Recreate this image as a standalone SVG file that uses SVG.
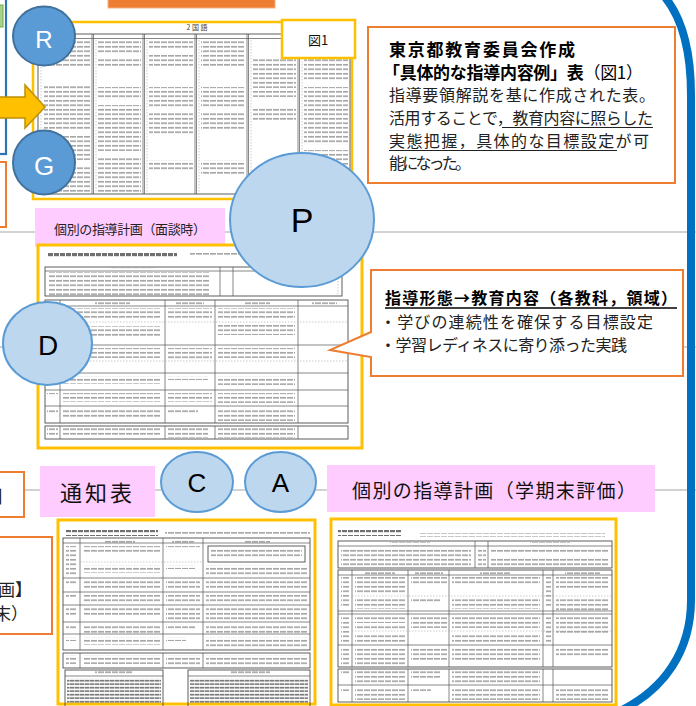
<svg xmlns="http://www.w3.org/2000/svg" width="696" height="706" viewBox="0 0 696 706">
<defs>
<pattern id="tx" width="7" height="4.5" patternUnits="userSpaceOnUse"><rect x="0" y="1" width="6" height="1.5" fill="#9a9a9a"/></pattern>
<pattern id="txd" width="5" height="3.5" patternUnits="userSpaceOnUse"><rect x="0" y="0.8" width="4.5" height="1.7" fill="#777"/></pattern>
<pattern id="txh" width="6" height="6" patternUnits="userSpaceOnUse"><rect x="0" y="1" width="5" height="3.2" fill="#707070"/></pattern>
<style>
.doc{fill:#fff;stroke:#FFC000;stroke-width:3}
.tb{fill:none;stroke:#4d4d4d;stroke-width:0.9}
.ln{stroke:#555;stroke-width:0.7}
.dl{stroke:#aaa;stroke-width:0.6;stroke-dasharray:1.5 1.5}
.tx{fill:url(#tx)}
.txd{fill:url(#txd)}
.txh{fill:url(#txh)}
.pink{fill:#FFCCFF}
.ob{fill:#fff;stroke:#ED7D31;stroke-width:2}
.c1{fill:#BDD7EE;stroke:#5B9BD5;stroke-width:2}
.c2{fill:#5B9BD5;stroke:#41719C;stroke-width:2}
.jp{font-family:"Noto Sans CJK JP","Liberation Sans",sans-serif}
.lt{font-family:"Liberation Sans",Arial,sans-serif}
.conn{stroke:#A6A6A6;stroke-width:1;fill:none}
</style>
</defs>
<rect width="696" height="706" fill="#fff"/>

<!-- connectors / background lines -->
<g id="connectors">
<line class="conn" x1="0" y1="232" x2="696" y2="232"/>
<line class="conn" x1="0" y1="347" x2="696" y2="347"/>
<line class="conn" x1="0" y1="490" x2="696" y2="490"/>
</g>

<!-- partial shapes at the edges -->
<g id="edge-left">
<rect x="-10" y="5" width="13" height="22" fill="#A9D18E" stroke="#70AD47" stroke-width="1"/>
<rect x="-20" y="-10" width="26" height="164" fill="none" stroke="#2E75B6" stroke-width="2.2"/>
<rect x="-20" y="162" width="26" height="65" class="ob"/>
<rect x="-20" y="472" width="44" height="45" class="ob"/>
<text class="jp" x="-14" y="503" font-size="18" fill="#222">日</text>
<rect x="-20" y="537" width="72" height="97" class="ob"/>
<text class="jp" x="-2" y="596" font-size="17" fill="#222">画】</text>
<text class="jp" x="-6" y="620" font-size="17" fill="#222">末）</text>
</g>
<g id="top-bar"><rect x="108" y="-5" width="167" height="13" fill="#ED7D31" stroke="#F4B183" stroke-width="1"/></g>

<!-- blue rounded frame -->
<g id="frame"><path d="M664,-4 C680,15 691,45 691,95 L691,600 C691,650 665,690 618,712" fill="none" stroke="#0070C0" stroke-width="8"/></g>

<!-- Fig.1 document -->
<g id="doc-fig1">
<rect x="33" y="22" width="319" height="177" fill="#fff" stroke="#FFC000" stroke-width="2.5"/>
<text class="jp" x="197" y="30" font-size="7" text-anchor="middle" fill="#444">2 国 語</text>
<rect x="38" y="34" width="312" height="160" class="tb"/>
<line class="ln" x1="38" y1="38.5" x2="350" y2="38.5"/>
<g class="ln">
<line x1="92" y1="34" x2="92" y2="194"/><line x1="93.5" y1="34" x2="93.5" y2="194"/>
<line x1="143" y1="34" x2="143" y2="194"/><line x1="144.5" y1="34" x2="144.5" y2="194"/>
<line x1="195" y1="34" x2="195" y2="194"/><line x1="196.5" y1="34" x2="196.5" y2="194"/>
<line x1="247" y1="34" x2="247" y2="194"/><line x1="248.5" y1="34" x2="248.5" y2="194"/>
<line x1="298" y1="34" x2="298" y2="194"/><line x1="299.5" y1="34" x2="299.5" y2="194"/>
</g>
<g class="dl"><line x1="41" y1="40" x2="41" y2="192"/><line x1="96" y1="40" x2="96" y2="192"/><line x1="147" y1="40" x2="147" y2="192"/><line x1="199" y1="40" x2="199" y2="192"/><line x1="251" y1="40" x2="251" y2="192"/><line x1="302" y1="40" x2="302" y2="192"/></g>
<g class="tx">
<rect x="44" y="40" width="46" height="26"/><rect x="44" y="86" width="46" height="44"/><rect x="44" y="136" width="46" height="24"/><rect x="44" y="165" width="46" height="27"/>
<rect x="98" y="40" width="43" height="14"/><rect x="98" y="57" width="43" height="10"/><rect x="98" y="87" width="43" height="13"/><rect x="98" y="105" width="43" height="46"/><rect x="98" y="157" width="43" height="36"/>
<rect x="149" y="40" width="44" height="9"/><rect x="149" y="55" width="44" height="11"/><rect x="149" y="87" width="44" height="22"/><rect x="149" y="113" width="44" height="22"/><rect x="149" y="160" width="44" height="10"/>
<rect x="201" y="40" width="44" height="27"/><rect x="201" y="87" width="44" height="22"/><rect x="201" y="113" width="44" height="16"/><rect x="201" y="160" width="44" height="14"/>
<rect x="253" y="58" width="43" height="30"/><rect x="253" y="91" width="43" height="6"/><rect x="253" y="108" width="43" height="14"/>
<rect x="304" y="52" width="44" height="28"/><rect x="304" y="87" width="44" height="58"/><rect x="304" y="150" width="44" height="22"/>
</g>
</g>
<g id="label-fig1">
<rect x="282" y="20" width="73" height="38" fill="#fff" stroke="#FFC000" stroke-width="2.5"/>
<text class="jp" x="318" y="45" font-size="13" text-anchor="middle" fill="#111">図1</text>
</g>

<!-- arrow -->
<g id="arrow"><polygon points="-3,97 25,97 25,85 45,107 25,128 25,118 -3,118" fill="#FFC000" stroke="#BF9000" stroke-width="1.5"/></g>

<!-- top-right text box -->
<g id="note-fig1">
<rect x="368" y="27" width="307" height="156" class="ob"/>
<text class="jp" x="389" y="56" font-size="17" font-weight="bold" fill="#000" textLength="186" lengthAdjust="spacing">東京都教育委員会作成</text>
<text class="jp" x="383" y="79" font-size="17" fill="#000" textLength="260" lengthAdjust="spacing"><tspan font-weight="bold">「具体的な指導内容例」表</tspan><tspan>（図1）</tspan></text>
<text class="jp" x="389" y="101" font-size="16" fill="#222" textLength="266" lengthAdjust="spacing">指導要領解説を基に作成された表。</text>
<text class="jp" x="389" y="124" font-size="16" fill="#222" textLength="264" lengthAdjust="spacing">活用することで，教育内容に照らした</text>
<line x1="502" y1="127.5" x2="653" y2="127.5" stroke="#222" stroke-width="1.2"/>
<text class="jp" x="389" y="147" font-size="16" fill="#222" textLength="260" lengthAdjust="spacing">実態把握，具体的な目標設定が可</text>
<line x1="389" y1="150.5" x2="617" y2="150.5" stroke="#222" stroke-width="1.2"/>
<text class="jp" x="389" y="169" font-size="16" fill="#222" textLength="82" lengthAdjust="spacing">能になった。</text>
</g>

<!-- pink label: interview -->
<g id="label-interview">
<rect x="35" y="208" width="190" height="39" class="pink"/>
<text class="jp" x="54" y="234" font-size="13" fill="#222" textLength="152" lengthAdjust="spacing">個別の指導計画（面談時）</text>
</g>

<!-- interview document -->
<g id="doc-interview">
<rect x="38" y="245" width="324" height="203" class="doc"/>
<rect x="47" y="251" width="130" height="6" class="txh"/>
<rect x="190" y="253" width="55" height="4" class="tx"/>
<rect x="45" y="267" width="297" height="29" class="tb"/>
<line class="ln" x1="45" y1="271" x2="342" y2="271"/>
<line class="ln" x1="220" y1="267" x2="220" y2="296"/><line class="ln" x1="233" y1="267" x2="233" y2="296"/>
<rect x="110" y="267.5" width="45" height="3" class="tx"/>
<rect x="49" y="272" width="160" height="23" class="tx"/>
<line class="dl" x1="338" y1="272" x2="338" y2="295"/>
<rect x="45" y="300" width="303" height="123" class="tb"/>
<line class="ln" x1="45" y1="306" x2="348" y2="306"/>
<g class="ln">
<line x1="60" y1="300" x2="60" y2="423"/><line x1="165" y1="300" x2="165" y2="423"/><line x1="215" y1="300" x2="215" y2="423"/><line x1="298" y1="300" x2="298" y2="423"/>
<line x1="45" y1="345" x2="348" y2="345"/><line x1="45" y1="373" x2="348" y2="373"/><line x1="45" y1="390" x2="348" y2="390"/><line x1="45" y1="406" x2="348" y2="406"/>
</g>
<line class="dl" x1="60" y1="322" x2="348" y2="322"/><line class="dl" x1="60" y1="361" x2="348" y2="361"/>
<g class="tx">
<rect x="95" y="301" width="35" height="4"/><rect x="176" y="301" width="28" height="4"/><rect x="245" y="301" width="25" height="4"/><rect x="312" y="301" width="25" height="4"/>
<rect x="63" y="308" width="98" height="10"/><rect x="63" y="326" width="98" height="10"/><rect x="63" y="348" width="98" height="10"/><rect x="63" y="376" width="98" height="8"/><rect x="63" y="393" width="98" height="9"/><rect x="63" y="409" width="98" height="9"/>
<rect x="168" y="308" width="44" height="10"/><rect x="168" y="348" width="44" height="13"/><rect x="168" y="376" width="40" height="4"/><rect x="168" y="393" width="44" height="9"/><rect x="168" y="409" width="30" height="4"/>
<rect x="218" y="308" width="77" height="10"/><rect x="218" y="325" width="77" height="10"/><rect x="218" y="348" width="77" height="10"/><rect x="218" y="376" width="77" height="9"/><rect x="218" y="393" width="77" height="10"/><rect x="218" y="409" width="77" height="12"/>
<rect x="47" y="393" width="11" height="4"/><rect x="47" y="409" width="11" height="4"/><rect x="47" y="376" width="11" height="4"/>
</g>
<rect x="45" y="426" width="303" height="13" class="tb"/>
<g class="ln"><line x1="60" y1="426" x2="60" y2="439"/><line x1="165" y1="426" x2="165" y2="439"/><line x1="215" y1="426" x2="215" y2="439"/><line x1="298" y1="426" x2="298" y2="439"/></g>
<g class="tx"><rect x="47" y="428" width="11" height="9"/><rect x="63" y="428" width="98" height="9"/><rect x="168" y="428" width="40" height="10"/><rect x="218" y="428" width="77" height="10"/></g>
</g>

<!-- callout -->
<g id="callout-form">
<path d="M371,270 H683 V376 H371 V357 L330,350 L371,332 Z" class="ob"/>
<text class="jp" x="385" y="304" font-size="16" font-weight="bold" fill="#000" textLength="292" lengthAdjust="spacing">指導形態→教育内容（各教科，領域）</text>
<line x1="385" y1="308" x2="677" y2="308" stroke="#000" stroke-width="1.3"/>
<text class="jp" x="380" y="328" font-size="16" fill="#222" textLength="273" lengthAdjust="spacing">・学びの連続性を確保する目標設定</text>
<text class="jp" x="380" y="351" font-size="16" fill="#222" textLength="247" lengthAdjust="spacing">・学習レディネスに寄り添った実践</text>
</g>

<!-- report card label & doc -->
<g id="label-report">
<rect x="40" y="466" width="115" height="51" class="pink"/>
<text class="jp" x="60" y="501" font-size="22" fill="#111" textLength="72" lengthAdjust="spacing">通知表</text>
</g>
<g id="doc-report">
<rect x="58" y="520" width="257" height="184" class="doc"/>
<rect x="66" y="530" width="92" height="6" class="txh"/>
<rect x="165" y="532" width="145" height="4" class="tx"/>
<rect x="63" y="538" width="247" height="112" class="tb"/>
<line class="ln" x1="63" y1="543" x2="310" y2="543"/>
<g class="ln">
<line x1="80" y1="538" x2="80" y2="650"/><line x1="163" y1="538" x2="163" y2="650"/><line x1="203" y1="538" x2="203" y2="650"/>
<line x1="63" y1="578" x2="310" y2="578"/><line x1="63" y1="592" x2="310" y2="592"/><line x1="63" y1="605" x2="310" y2="605"/><line x1="63" y1="622" x2="310" y2="622"/><line x1="63" y1="634" x2="310" y2="634"/>
</g>
<line class="dl" x1="80" y1="562" x2="203" y2="562"/>
<rect x="208" y="546" width="97" height="16" class="tb"/>
<g class="tx">
<rect x="105" y="539" width="30" height="4"/><rect x="172" y="539" width="22" height="4"/><rect x="245" y="539" width="25" height="4"/>
<rect x="66" y="546" width="11" height="30"/><rect x="66" y="581" width="11" height="4"/><rect x="66" y="595" width="11" height="4"/><rect x="66" y="608" width="11" height="9"/><rect x="66" y="625" width="11" height="4"/><rect x="66" y="637" width="11" height="4"/>
<rect x="83" y="546" width="77" height="7"/><rect x="83" y="565" width="77" height="8"/><rect x="83" y="581" width="77" height="8"/><rect x="83" y="595" width="77" height="8"/><rect x="83" y="608" width="77" height="9"/><rect x="83" y="625" width="77" height="8"/><rect x="83" y="637" width="77" height="8"/>
<rect x="166" y="546" width="34" height="4"/><rect x="166" y="565" width="30" height="4"/><rect x="166" y="581" width="34" height="9"/><rect x="166" y="595" width="34" height="9"/><rect x="166" y="608" width="34" height="12"/><rect x="166" y="625" width="30" height="4"/><rect x="166" y="637" width="20" height="4"/>
<rect x="211" y="549" width="91" height="10"/><rect x="206" y="565" width="102" height="11"/><rect x="206" y="581" width="102" height="9"/><rect x="206" y="595" width="102" height="9"/><rect x="206" y="608" width="102" height="13"/><rect x="206" y="625" width="102" height="8"/><rect x="206" y="637" width="102" height="12"/>
</g>
<rect x="63" y="653" width="247" height="15" class="tb"/>
<g class="ln"><line x1="80" y1="653" x2="80" y2="668"/><line x1="163" y1="653" x2="163" y2="668"/><line x1="203" y1="653" x2="203" y2="668"/></g>
<g class="tx"><rect x="66" y="655" width="11" height="9"/><rect x="83" y="655" width="77" height="9"/><rect x="166" y="655" width="34" height="12"/><rect x="206" y="655" width="102" height="12"/></g>
<rect x="65" y="670" width="98" height="40" class="tb"/>
<line class="ln" x1="65" y1="676" x2="163" y2="676"/>
<rect x="95" y="671" width="38" height="4" class="tx"/>
<rect x="67" y="678" width="94" height="26" class="txd"/>
<rect x="188" y="670" width="122" height="40" class="tb"/>
<line class="ln" x1="188" y1="676" x2="310" y2="676"/>
<rect x="230" y="671" width="40" height="4" class="tx"/>
<rect x="190" y="678" width="118" height="26" class="txd"/>
</g>

<!-- semester-end label & doc -->
<g id="label-semester">
<rect x="327" y="465" width="328" height="47" class="pink"/>
<text class="jp" x="352" y="498" font-size="19" fill="#111" textLength="284" lengthAdjust="spacing">個別の指導計画（学期末評価）</text>
</g>
<g id="doc-semester">
<rect x="331" y="519" width="285" height="186" class="doc"/>
<rect x="338" y="530" width="64" height="6" class="txh"/>
<rect x="420" y="533" width="185" height="4" class="tx"/>
<rect x="338" y="541" width="274" height="27" class="tb"/>
<line class="ln" x1="338" y1="546" x2="612" y2="546"/>
<line class="ln" x1="475" y1="541" x2="475" y2="568"/><line class="ln" x1="488" y1="541" x2="488" y2="568"/>
<g class="tx"><rect x="390" y="542" width="40" height="4"/><rect x="530" y="542" width="40" height="4"/><rect x="341" y="548" width="130" height="19"/><rect x="491" y="548" width="118" height="5"/><rect x="491" y="557" width="118" height="9"/><rect x="478" y="548" width="8" height="18"/></g>
<rect x="338" y="570" width="274" height="97" class="tb"/>
<line class="ln" x1="338" y1="575" x2="612" y2="575"/>
<g class="ln">
<line x1="352" y1="570" x2="352" y2="667"/><line x1="408" y1="570" x2="408" y2="667"/><line x1="449" y1="570" x2="449" y2="667"/><line x1="543" y1="570" x2="543" y2="667"/><line x1="553" y1="570" x2="553" y2="667"/>
<line x1="338" y1="611" x2="612" y2="611"/><line x1="338" y1="614" x2="612" y2="614"/><line x1="338" y1="645" x2="612" y2="645"/>
</g>
<line class="dl" x1="352" y1="596" x2="612" y2="596"/><line class="dl" x1="352" y1="631" x2="612" y2="631"/>
<g class="tx">
<rect x="365" y="571" width="30" height="4"/><rect x="415" y="571" width="28" height="4"/><rect x="480" y="571" width="30" height="4"/><rect x="565" y="571" width="35" height="4"/>
<rect x="341" y="577" width="9" height="30"/><rect x="341" y="615" width="9" height="28"/><rect x="341" y="647" width="9" height="18"/>
<rect x="355" y="577" width="50" height="18"/><rect x="355" y="599" width="50" height="10"/><rect x="355" y="615" width="50" height="8"/><rect x="355" y="625" width="50" height="5"/><rect x="355" y="634" width="50" height="9"/><rect x="355" y="647" width="50" height="18"/>
<rect x="411" y="577" width="36" height="8"/><rect x="411" y="599" width="30" height="4"/><rect x="411" y="615" width="36" height="13"/><rect x="411" y="647" width="36" height="13"/>
<rect x="452" y="577" width="88" height="8"/><rect x="452" y="599" width="88" height="10"/><rect x="452" y="615" width="88" height="13"/><rect x="452" y="634" width="88" height="9"/><rect x="452" y="647" width="88" height="13"/>
<rect x="545" y="577" width="6" height="30"/><rect x="545" y="615" width="6" height="28"/>
<rect x="556" y="577" width="53" height="13"/><rect x="556" y="599" width="53" height="12"/><rect x="556" y="615" width="53" height="18"/><rect x="556" y="647" width="53" height="9"/>
</g>
<rect x="338" y="669" width="274" height="33" class="tb"/>
<g class="ln"><line x1="352" y1="669" x2="352" y2="702"/><line x1="408" y1="669" x2="408" y2="702"/><line x1="449" y1="669" x2="449" y2="702"/><line x1="543" y1="669" x2="543" y2="702"/><line x1="553" y1="669" x2="553" y2="702"/><line x1="338" y1="685" x2="612" y2="685"/></g>
<g class="tx"><rect x="341" y="671" width="9" height="4"/><rect x="341" y="687" width="9" height="4"/><rect x="355" y="671" width="50" height="13"/><rect x="355" y="687" width="50" height="13"/><rect x="411" y="671" width="30" height="9"/><rect x="411" y="687" width="20" height="4"/><rect x="452" y="671" width="88" height="13"/><rect x="452" y="687" width="88" height="13"/><rect x="556" y="687" width="53" height="13"/></g>
</g>

<!-- circles -->
<g id="node-R"><ellipse cx="44" cy="36" rx="31" ry="29.5" class="c2"/><text class="lt" x="44" y="48" font-size="24" fill="#fff" text-anchor="middle">R</text></g>
<g id="node-G"><ellipse cx="44" cy="162.5" rx="31" ry="32" class="c2"/><text class="lt" x="44" y="175" font-size="26" fill="#fff" text-anchor="middle">G</text></g>
<g id="node-P"><ellipse cx="302" cy="220" rx="72" ry="67" class="c1"/><text class="lt" x="302" y="232" font-size="34" fill="#000" text-anchor="middle">P</text></g>
<g id="node-D"><ellipse cx="47.5" cy="343.5" rx="44.5" ry="41.5" class="c1"/><text class="lt" x="48" y="355" font-size="28" fill="#000" text-anchor="middle">D</text></g>
<g id="node-C"><ellipse cx="197" cy="482" rx="36" ry="30" class="c1"/><text class="lt" x="197" y="492" font-size="26" fill="#000" text-anchor="middle">C</text></g>
<g id="node-A"><ellipse cx="280.5" cy="482" rx="35.5" ry="30" class="c1"/><text class="lt" x="280.5" y="492" font-size="26" fill="#000" text-anchor="middle">A</text></g>
</svg>
